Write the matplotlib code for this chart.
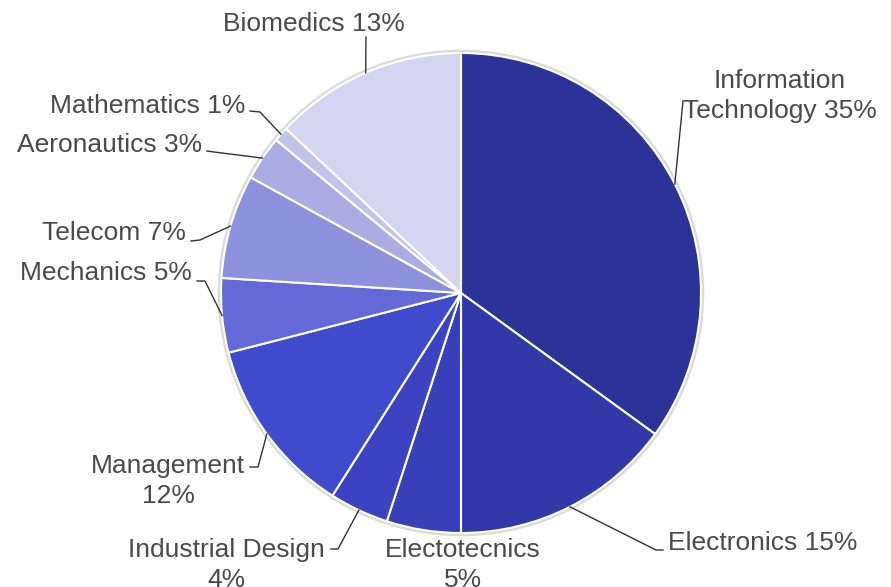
import numpy as np
import matplotlib.pyplot as plt
from matplotlib.patches import Circle

plt.rcParams['font.family'] = ['Liberation Sans', 'DejaVu Sans']

# share of students per field, clockwise from 12 o'clock
fields = ['Information Technology', 'Electronics', 'Electotecnics', 'Industrial Design',
          'Management', 'Mechanics', 'Telecom', 'Aeronautics', 'Mathematics', 'Biomedics']
shares = [35, 15, 5, 4, 12, 5, 7, 3, 1, 13]
colors = ['#2b3399', '#3139a9', '#3840b9', '#3b43c3', '#3e4bcd',
          '#6469d8', '#8d91de', '#aaace4', '#c1c3ea', '#d4d5f0']

# label text lines (split where the label wraps)
label_lines = [['Information', 'Technology 35%'], ['Electronics 15%'], ['Electotecnics', '5%'],
               ['Industrial Design', '4%'], ['Management', '12%'], ['Mechanics 5%'],
               ['Telecom 7%'], ['Aeronautics 3%'], ['Mathematics 1%'], ['Biomedics 13%']]

W, H = 891, 587
CX, CY, R = 461, 293, 240

# label layout in pixel coords: (anchor x, first baseline y, alignment, leader elbow points)
layout = [
    (780, 88, 'center', [(683, 101)]),
    (668, 550, 'left', [(656, 550), (663, 550)]),
    (463, 557, 'center', None),
    (226, 557, 'center', [(338, 549), (331, 549)]),
    (168, 473, 'center', [(258, 467), (250, 467)]),
    (192, 280, 'right', [(205, 281), (197, 281)]),
    (186, 240, 'right', [(200, 240), (191, 241)]),
    (202, 152, 'right', [(214, 152), (207, 151)]),
    (245, 113, 'right', [(260, 112), (250, 111)]),
    (223, 31, 'left', [(366, 37)]),
]


def fy(py):
    return H - py


fig = plt.figure(figsize=(W / 100, H / 100), dpi=100)
ax = fig.add_axes([0, 0, 1, 1])

# soft outline round the pie
ax.add_patch(Circle((CX, fy(CY)), R + 1.5, facecolor='none', edgecolor='#dadada', lw=2.5, zorder=0))

ax.pie(shares, colors=colors, startangle=90, counterclock=False, radius=R,
       center=(CX, fy(CY)), wedgeprops=dict(edgecolor='white', linewidth=1.5))

cum = np.cumsum(shares) - np.array(shares) / 2
total = sum(shares)
for i, lines in enumerate(label_lines):
    tx, ty, ha, elbows = layout[i]
    for k, line in enumerate(lines):
        ax.text(tx, fy(ty + 30 * k), line, ha=ha, va='baseline', fontsize=19, color='#4a4a4a')
    if elbows:
        ang = np.deg2rad(cum[i] / total * 360)
        ex, ey = CX + R * np.sin(ang), CY - R * np.cos(ang)
        pts = [(ex, ey)] + elbows
        ax.plot([p[0] for p in pts], [fy(p[1]) for p in pts], color='#333333', lw=1, zorder=3)

ax.set_xlim(0, W)
ax.set_ylim(0, H)
ax.set_aspect('equal')
ax.axis('off')

fig.savefig('out.png', dpi=100)
